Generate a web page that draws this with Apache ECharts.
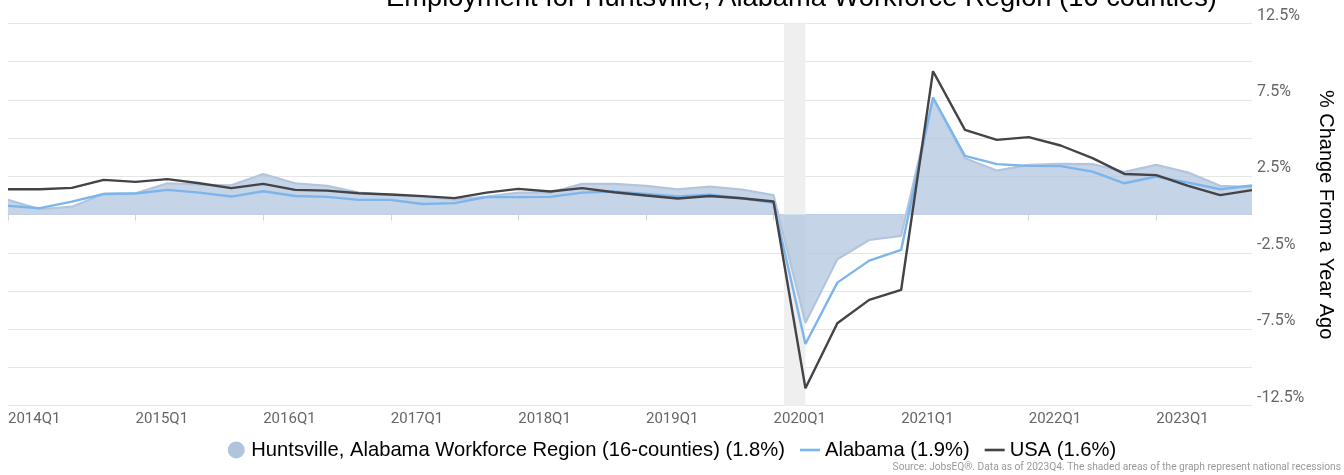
<!DOCTYPE html>
<html>
<head>
<meta charset="utf-8">
<script src="https://cdn.jsdelivr.net/npm/echarts@6/dist/echarts.min.js"></script>
<style>
html,body{margin:0;padding:0;background:#fff;}
#chart{width:1344px;height:475px;}
</style>
</head>
<body>
<div id="chart"></div>
<script>
const categories = [
  '2014Q1','2014Q2','2014Q3','2014Q4','2015Q1','2015Q2','2015Q3','2015Q4',
  '2016Q1','2016Q2','2016Q3','2016Q4','2017Q1','2017Q2','2017Q3','2017Q4',
  '2018Q1','2018Q2','2018Q3','2018Q4','2019Q1','2019Q2','2019Q3','2019Q4',
  '2020Q1','2020Q2','2020Q3','2020Q4','2021Q1','2021Q2','2021Q3','2021Q4',
  '2022Q1','2022Q2','2022Q3','2022Q4','2023Q1','2023Q2','2023Q3','2023Q4'
];
const huntsville = [
  0.96, 0.35, 0.52, 1.35, 1.40, 2.05, 1.96, 1.92,
  2.66, 2.05, 1.88, 1.44, 1.27, 1.18, 0.98, 1.18,
  1.44, 1.44, 2.01, 2.01, 1.88, 1.66, 1.83, 1.64,
  1.27, -7.07, -2.92, -1.66, -1.39, 7.60, 3.69, 2.88,
  3.25, 3.32, 3.30, 2.79, 3.25, 2.75, 1.88, 1.80
];
const alabama = [
  0.57, 0.42, 0.85, 1.35, 1.38, 1.62, 1.44, 1.18,
  1.53, 1.22, 1.16, 0.96, 0.96, 0.69, 0.75, 1.14,
  1.14, 1.16, 1.44, 1.51, 1.35, 1.18, 1.31, 1.07,
  0.77, -8.46, -4.45, -3.01, -2.31, 7.66, 3.84, 3.30,
  3.19, 3.17, 2.81, 2.05, 2.49, 2.09, 1.66, 1.90
];
const usa = [
  1.66, 1.66, 1.75, 2.27, 2.14, 2.32, 2.05, 1.73,
  2.01, 1.62, 1.57, 1.40, 1.31, 1.21, 1.08, 1.44,
  1.68, 1.51, 1.73, 1.46, 1.25, 1.05, 1.22, 1.07,
  0.86, -11.36, -7.11, -5.58, -4.93, 9.38, 5.54, 4.89,
  5.07, 4.52, 3.69, 2.66, 2.58, 1.88, 1.27, 1.60
];
const seriesNames = [
  'Huntsville, Alabama Workforce Region (16-counties) (1.8%)',
  'Alabama (1.9%)',
  'USA (1.6%)'
];
const yTickLabels = [12.5, 7.5, 2.5, -2.5, -7.5, -12.5];
const recession = [24.33, 25.0];
const titleText = 'Employment for Huntsville, Alabama Workforce Region (16 counties)';
const yAxisName = '% Change From a Year Ago';
const sourceText = 'Source: JobsEQ\u00ae. Data as of 2023Q4. The shaded areas of the graph represent national recessions';

const pairs = arr => arr.map((v, i) => [i, v]);
const yearTicks = categories.map((c, i) => c.endsWith('Q1') ? i : null).filter(v => v !== null);
const lineIcon = 'path://M0,0M20,17M0,7.2L20,7.2L20,9.8L0,9.8Z';

const chart = echarts.init(document.getElementById('chart'), null, {renderer: 'canvas'});
chart.setOption({
  animation: false,
  backgroundColor: '#fff',
  grid: {left: 8, right: 92, top: 23.5, bottom: 69.3, containLabel: false, outerBoundsMode: 'none'},
  graphic: [
    {type: 'text', x: 386, y: -2, silent: true,
     style: {text: titleText, fill: '#000', font: '27.3px "Liberation Sans", Arial, sans-serif', align: 'left', verticalAlign: 'middle'}},
    {type: 'text', x: 1341, y: 467, silent: true,
     style: {text: sourceText, fill: '#999', font: '10.2px Roboto, sans-serif', align: 'right', verticalAlign: 'middle'}}
  ],
  legend: {
    top: 435, left: 'center',
    itemWidth: 20, itemHeight: 17, itemGap: 15,
    textStyle: {fontSize: 20.2, color: '#000', fontFamily: '"Liberation Sans", Arial, sans-serif'},
    data: [
      {name: seriesNames[0], icon: 'circle'},
      {name: seriesNames[1], icon: lineIcon},
      {name: seriesNames[2], icon: lineIcon}
    ]
  },
  xAxis: {
    type: 'value', min: 0, max: categories.length - 1,
    axisLine: {show: true, lineStyle: {color: '#ccd6eb', width: 1}},
    axisTick: {show: true, length: 6, lineStyle: {color: '#ccd6eb'}, customValues: yearTicks},
    axisLabel: {
      customValues: yearTicks,
      formatter: v => categories[Math.round(v)] || '',
      align: 'left', margin: 6, color: '#666', fontSize: 15, fontFamily: 'Roboto, sans-serif'
    },
    splitLine: {show: false}
  },
  yAxis: {
    type: 'value', position: 'right', min: -12.5, max: 12.5, interval: 2.5,
    axisLine: {show: false}, axisTick: {show: false},
    splitLine: {show: true, lineStyle: {color: '#e6e6e6', width: 1}},
    axisLabel: {
      formatter: v => yTickLabels.some(t => Math.abs(t - v) < 1e-6) ? v.toFixed(1) + '%' : '',
      margin: 5, color: '#666', fontSize: 16, fontFamily: 'Roboto, sans-serif', verticalAlign: 'bottom'
    },
    name: yAxisName, nameLocation: 'middle', nameRotate: -90, nameGap: 61,
    nameTextStyle: {fontSize: 20, color: '#000', fontFamily: '"Liberation Sans", Arial, sans-serif'}
  },
  series: [
    {
      type: 'line', name: '__recession', data: [], z: 0, silent: true,
      markArea: {silent: true, itemStyle: {color: '#efefef'},
        data: [[{xAxis: recession[0]}, {xAxis: recession[1]}]]}
    },
    {
      type: 'line', name: seriesNames[0], data: pairs(huntsville), z: 2,
      symbol: 'none', color: '#b0c4de',
      lineStyle: {color: '#b3c5dc', width: 2.2},
      areaStyle: {color: '#b0c4de', opacity: 0.72}
    },
    {
      type: 'line', name: seriesNames[1], data: pairs(alabama), z: 3,
      symbol: 'none', color: '#7cb5ec',
      lineStyle: {color: '#7cb5ec', width: 2.4}
    },
    {
      type: 'line', name: seriesNames[2], data: pairs(usa), z: 4,
      symbol: 'none', color: '#434348',
      lineStyle: {color: '#434348', width: 2.4}
    }
  ]
});
</script>
</body>
</html>
